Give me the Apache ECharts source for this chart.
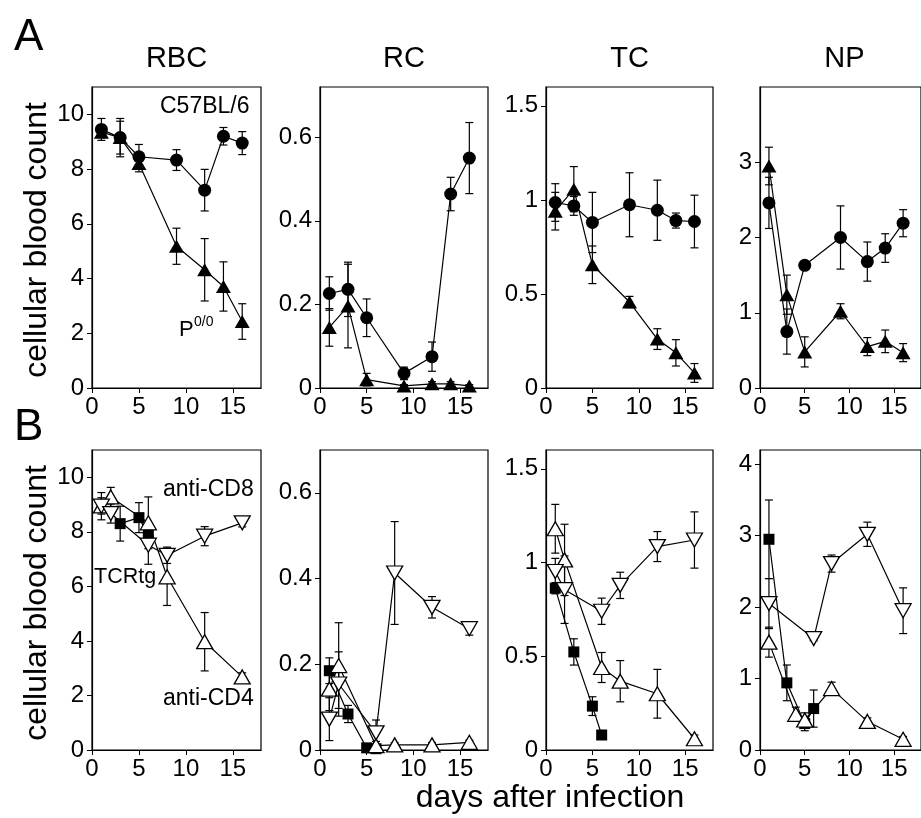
<!DOCTYPE html>
<html><head><meta charset="utf-8">
<script src="https://cdn.jsdelivr.net/npm/echarts@6/dist/echarts.min.js"></script>
<style>html,body{margin:0;padding:0;background:#fff}#c{width:921px;height:818px}</style>
</head><body><div id="c"></div>
<script>
// ---------------- data ----------------
const panelTitles = ['RBC', 'RC', 'TC', 'NP'];
const xTickStep = 5;

// Row A: C57BL/6 (filled circles) vs P0/0 (filled triangles)
const daysA = [1, 3, 5, 9, 12, 14, 16];
const rbcB6 = [9.45, 9.15, 8.45, 8.33, 7.23, 9.2, 8.95];
const rbcB6Err = [0.4, 0.7, 0.45, 0.38, 0.76, 0.32, 0.42];
const rbcP00 = [9.35, 9.15, 8.2, 5.18, 4.32, 3.71, 2.43];
const rbcP00Err = [0.2, 0.6, 0.3, 0.66, 1.14, 0.9, 0.65];
const rcB6 = [0.226, 0.236, 0.168, 0.035, 0.075, 0.464, 0.55];
const rcB6Err = [0.04, 0.065, 0.045, 0.015, 0.035, 0.04, 0.085];
const rcP00 = [0.145, 0.196, 0.02, 0.005, 0.01, 0.01, 0.005];
const rcP00Err = [0.045, 0.1, 0.015, 0.003, 0.005, 0.005, 0.003];
const tcB6 = [0.986, 0.968, 0.88, 0.974, 0.945, 0.89, 0.885];
const tcB6Err = [0.1, 0.05, 0.16, 0.17, 0.16, 0.04, 0.14];
const tcP00 = [0.94, 1.057, 0.655, 0.457, 0.26, 0.187, 0.08];
const tcP00Err = [0.1, 0.12, 0.1, 0.03, 0.055, 0.07, 0.05];
const npB6 = [2.46, 0.75, 1.63, 2.0, 1.68, 1.86, 2.19];
const npB6Err = [0.34, 0.3, 0.03, 0.42, 0.26, 0.19, 0.18];
const npP00 = [2.95, 1.24, 0.48, 1.02, 0.55, 0.62, 0.47];
const npP00Err = [0.25, 0.26, 0.2, 0.1, 0.12, 0.15, 0.12];

// Row B: anti-CD8 (open down triangles), anti-CD4 (open up triangles), TCRtg (filled squares)
const daysCD = [1, 2, 6, 8, 12, 16];
const daysCD8np = [1, 6, 8, 12, 16];
const daysCD4np = [1, 4, 5, 8, 12, 16];
const daysTgRbc = [3, 5, 6];
const daysTg = [1, 3, 5, 6];

const rbcCD8 = [8.94, 8.67, 7.51, 7.14, 7.84, 8.33];
const rbcCD8Err = [0.5, 0.35, 0.7, 0.3, 0.35, 0.15];
const rbcCD4 = [8.95, 9.28, 8.33, 6.35, 3.97, 2.68];
const rbcCD4Err = [0.3, 0.35, 0.95, 1.05, 1.07, 0.15];
const rbcTg = [8.3, 8.52, 7.88];
const rbcTgErr = [0.64, 0.55, 0.2];

const rcCD8 = [0.072, 0.154, 0.04, 0.413, 0.333, 0.283];
const rcCD8Err = [0.05, 0.075, 0.03, 0.12, 0.025, 0.015];
const rcCD4 = [0.142, 0.197, 0.01, 0.012, 0.012, 0.018];
const rcCD4Err = [0.05, 0.1, 0.01, 0.005, 0.005, 0.005];
const rcTg = [0.185, 0.084, 0.005, 0.003];
const rcTgErr = [0.03, 0.02, 0.005, 0.003];

const tcCD8 = [0.952, 0.855, 0.74, 0.878, 1.085, 1.12];
const tcCD8Err = [0.07, 0.18, 0.07, 0.07, 0.08, 0.15];
const tcCD4 = [1.18, 1.014, 0.44, 0.367, 0.30, 0.06];
const tcCD4Err = [0.13, 0.19, 0.08, 0.11, 0.13, 0.02];
const tcTg = [0.863, 0.523, 0.234, 0.08];
const tcTgErr = [0.03, 0.07, 0.05, 0.02];

const npCD8 = [2.05, 1.56, 2.61, 3.02, 1.95];
const npCD8Err = [0.35, 0.03, 0.12, 0.17, 0.32];
const npCD4 = [1.51, 0.5, 0.42, 0.86, 0.4, 0.15];
const npCD4Err = [0.21, 0.1, 0.1, 0.09, 0.05, 0.04];
const npTg = [2.95, 0.94, 0.37, 0.58];
const npTgErr = [0.55, 0.25, 0.1, 0.26];

// axis ranges
const yMaxA = [11, 0.72, 1.6, 4];
const yMaxB = [11, 0.7, 1.6, 4.2];
const yStep = [2, 0.2, 0.5, 1];
const xMax = 18;

// ---------------- layout ----------------
const FONT = "'Liberation Sans', Arial, Helvetica, sans-serif";
const cols = [{left: 92, width: 169}, {left: 320, width: 168}, {left: 546, width: 167}, {left: 760, width: 169}];
const rows = [{top: 87, height: 301}, {top: 450, height: 300}];

const grids = [], xAxes = [], yAxes = [], series = [];

function addPanel(r, c, yMax) {
  const idx = grids.length;
  grids.push({left: cols[c].left, width: cols[c].width, top: rows[r].top, height: rows[r].height,
    show: true, borderColor: '#000', borderWidth: 1.2, containLabel: false});
  xAxes.push({type: 'value', gridIndex: idx, min: 0, max: xMax, interval: xTickStep,
    axisLine: {show: true, onZero: false, lineStyle: {color: '#000', width: 1.2}},
    axisTick: {show: true, length: 5, lineStyle: {color: '#000', width: 1}},
    axisLabel: {show: true, color: '#000', fontSize: 24, fontFamily: FONT, margin: 7, showMaxLabel: false,
      formatter: v => (Math.abs(v % xTickStep) < 1e-9 ? String(v) : '')},
    splitLine: {show: false}});
  const st = yStep[c];
  yAxes.push({type: 'value', gridIndex: idx, min: 0, max: yMax, interval: st,
    axisLine: {show: true, onZero: false, lineStyle: {color: '#000', width: 1.2}},
    axisTick: {show: true, length: 5, lineStyle: {color: '#000', width: 1}},
    axisLabel: {show: true, color: '#000', fontSize: 24, fontFamily: FONT, margin: 8, showMaxLabel: false,
      formatter: v => {
        const k = v / st;
        if (Math.abs(k - Math.round(k)) > 1e-6) return '';
        return String(Math.round(v * 100) / 100);
      }},
    splitLine: {show: false}});
  return idx;
}

function errSeries(idx, days, vals, errs) {
  return {type: 'custom', xAxisIndex: idx, yAxisIndex: idx, z: 1, silent: true, clip: false,
    data: days.map((d, i) => [d, vals[i], errs[i]]),
    renderItem: (params, api) => {
      const x = api.value(0), y = api.value(1), e = api.value(2);
      const t = api.coord([x, y + e]), b = api.coord([x, Math.max(0, y - e)]);
      const hw = 4, st = {stroke: '#000', lineWidth: 1.2};
      return {type: 'group', children: [
        {type: 'line', shape: {x1: t[0], y1: t[1], x2: b[0], y2: b[1]}, style: st},
        {type: 'line', shape: {x1: t[0] - hw, y1: t[1], x2: t[0] + hw, y2: t[1]}, style: st},
        {type: 'line', shape: {x1: b[0] - hw, y1: b[1], x2: b[0] + hw, y2: b[1]}, style: st}
      ]};
    }};
}

const MARK = {
  circle: {symbol: 'circle', symbolSize: 13, symbolRotate: 0, fill: '#000'},
  tri: {symbol: 'triangle', symbolSize: [15, 13], symbolRotate: 0, fill: '#000'},
  openUp: {symbol: 'triangle', symbolSize: [16, 14], symbolRotate: 0, fill: '#fff'},
  openDown: {symbol: 'triangle', symbolSize: [16, 14], symbolRotate: 180, fill: '#fff'},
  square: {symbol: 'rect', symbolSize: 11, symbolRotate: 0, fill: '#000'}
};

function lineSeries(idx, days, vals, m, z) {
  return {type: 'line', xAxisIndex: idx, yAxisIndex: idx, z: z || 2,
    data: days.map((d, i) => [d, vals[i]]),
    symbol: m.symbol, symbolSize: m.symbolSize, symbolRotate: m.symbolRotate, showAllSymbol: true,
    lineStyle: {color: '#000', width: 1.2},
    itemStyle: {color: m.fill, borderColor: '#000', borderWidth: m.fill === '#fff' ? 1.3 : 0, opacity: 1},
    emphasis: {disabled: true}, silent: true, clip: false};
}

function addGroup(idx, days, vals, errs, m, z) {
  series.push(errSeries(idx, days, vals, errs));
  series.push(lineSeries(idx, days, vals, m, z));
}

// Row A
const rowA = [
  [rbcB6, rbcB6Err, rbcP00, rbcP00Err],
  [rcB6, rcB6Err, rcP00, rcP00Err],
  [tcB6, tcB6Err, tcP00, tcP00Err],
  [npB6, npB6Err, npP00, npP00Err]
];
rowA.forEach((p, c) => {
  const idx = addPanel(0, c, yMaxA[c]);
  addGroup(idx, daysA, p[2], p[3], MARK.tri, 2);
  addGroup(idx, daysA, p[0], p[1], MARK.circle, 3);
});

// Row B
const rowB = [
  {cd8d: daysCD, cd8: rbcCD8, cd8e: rbcCD8Err, cd4d: daysCD, cd4: rbcCD4, cd4e: rbcCD4Err, tgd: daysTgRbc, tg: rbcTg, tge: rbcTgErr},
  {cd8d: daysCD, cd8: rcCD8, cd8e: rcCD8Err, cd4d: daysCD, cd4: rcCD4, cd4e: rcCD4Err, tgd: daysTg, tg: rcTg, tge: rcTgErr},
  {cd8d: daysCD, cd8: tcCD8, cd8e: tcCD8Err, cd4d: daysCD, cd4: tcCD4, cd4e: tcCD4Err, tgd: daysTg, tg: tcTg, tge: tcTgErr},
  {cd8d: daysCD8np, cd8: npCD8, cd8e: npCD8Err, cd4d: daysCD4np, cd4: npCD4, cd4e: npCD4Err, tgd: daysTg, tg: npTg, tge: npTgErr}
];
rowB.forEach((p, c) => {
  const idx = addPanel(1, c, yMaxB[c]);
  addGroup(idx, p.tgd, p.tg, p.tge, MARK.square, 2);
  addGroup(idx, p.cd4d, p.cd4, p.cd4e, MARK.openUp, 3);
  addGroup(idx, p.cd8d, p.cd8, p.cd8e, MARK.openDown, 4);
});

// ---------------- text ----------------
function txt(text, x, y, size, opts) {
  return Object.assign({type: 'text', x: x, y: y, z: 10, silent: true,
    style: {text: text, fill: '#000', fontSize: size, fontFamily: FONT,
      align: (opts && opts.align) || 'left', verticalAlign: (opts && opts.va) || 'middle'}},
    (opts && opts.rotation) ? {rotation: opts.rotation} : {});
}
const graphics = [
  txt('A', 14, 38, 44),
  txt('B', 14, 428, 44),
  txt('cellular blood count', 37, 240, 32, {align: 'center', rotation: Math.PI / 2}),
  txt('cellular blood count', 37, 603, 32, {align: 'center', rotation: Math.PI / 2}),
  txt('days after infection', 550, 798, 32, {align: 'center'}),
  txt('C57BL/6', 160, 107, 23),
  txt('P', 179, 330, 22),
  txt('0/0', 194, 322, 14),
  txt('anti-CD8', 163, 490, 23),
  txt('TCRtg', 94, 577, 21.5),
  txt('anti-CD4', 163, 699, 23)
];
panelTitles.forEach((t, c) => {
  graphics.push(txt(t, cols[c].left + cols[c].width / 2, 59, 29, {align: 'center'}));
});

const chart = echarts.init(document.getElementById('c'), null, {renderer: 'canvas'});
chart.setOption({
  animation: false,
  backgroundColor: '#fff',
  grid: grids, xAxis: xAxes, yAxis: yAxes, series: series,
  graphic: graphics
});
</script>
</body></html>
